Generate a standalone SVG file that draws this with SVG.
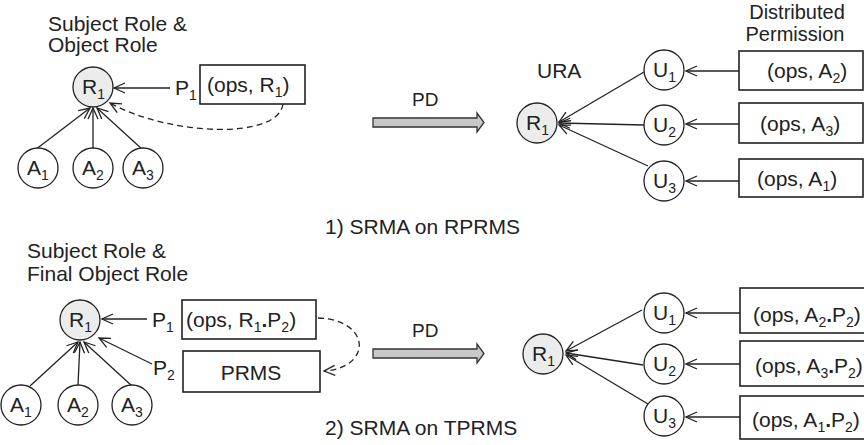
<svg xmlns="http://www.w3.org/2000/svg" width="864" height="445" viewBox="0 0 864 445">
  <style>
    text { font-family: "Liberation Sans", Arial, sans-serif; font-size: 21px; fill: #222; }
    .sub { font-size: 14px; }
    .mid { text-anchor: middle; }
    .pd { font-size: 19px; }
    .hdr { font-size: 20px; }
    .node { fill: #fff; stroke: #222; stroke-width: 1.3; }
    .role { fill: #ececec; stroke: #222; stroke-width: 1.3; }
    .box { fill: #fff; stroke: #222; stroke-width: 1.6; }
    .edge { fill: none; stroke: #222; stroke-width: 1.3; marker-end: url(#open); }
    .dash { fill: none; stroke: #222; stroke-width: 1.3; stroke-dasharray: 6 4; marker-end: url(#open); }
    .flow { fill: #c8c8c8; stroke: #333; stroke-width: 1.3; }
  </style>
  <defs>
    <marker id="open" viewBox="-13 -7 15 14" refX="0" refY="0" markerWidth="15" markerHeight="14" orient="auto" markerUnits="userSpaceOnUse">
      <path d="M-11,-5 L0,0 L-11,5" fill="none" stroke="#222" stroke-width="1.3"/>
    </marker>
  </defs>
  <rect width="864" height="445" fill="#fff"/>

  <!-- ===== 1) SRMA on RPRMS ===== -->
  <text x="48" y="31">Subject Role &amp;</text>
  <text x="48" y="52">Object Role</text>

  <g id="connectors-1">
    <path class="edge" d="M35,150 L90,108"/>
    <path class="edge" d="M93,148 L93,108"/>
    <path class="edge" d="M143,150 L97,108"/>
    <path class="edge" d="M170,88 L114,88"/>
    <path class="dash" d="M283,104 C278,140 170,136 110,103"/>
    <path class="edge" d="M644,72 L559,122"/>
    <path class="edge" d="M644,125 L559,123"/>
    <path class="edge" d="M648,166 L559,125"/>
    <path class="edge" d="M739,71 L686,71"/>
    <path class="edge" d="M739,124 L686,124"/>
    <path class="edge" d="M739,181 L686,181"/>
  </g>

  <g id="r1-a">
    <circle class="role" cx="93" cy="87" r="20"/>
    <text x="82" y="94">R<tspan class="sub" dy="5">1</tspan></text>
  </g>
  <g id="a1-a">
    <circle class="node" cx="38" cy="168" r="20"/>
    <text x="27" y="175">A<tspan class="sub" dy="5">1</tspan></text>
  </g>
  <g id="a2-a">
    <circle class="node" cx="93" cy="168" r="20"/>
    <text x="82" y="175">A<tspan class="sub" dy="5">2</tspan></text>
  </g>
  <g id="a3-a">
    <circle class="node" cx="143" cy="168" r="20"/>
    <text x="132" y="175">A<tspan class="sub" dy="5">3</tspan></text>
  </g>
  <g id="p1-a">
    <text x="175" y="95">P<tspan class="sub" dy="5">1</tspan></text>
  </g>
  <g id="perm-a">
    <rect class="box" x="200" y="65" width="105" height="39"/>
    <text x="207" y="92">(ops, R<tspan class="sub" dy="5">1</tspan><tspan dy="-5">)</tspan></text>
  </g>

  <g id="pd-a">
    <text class="pd" x="412" y="106">PD</text>
    <path class="flow" d="M373,118 L477,118 L477,113 L484,122.5 L477,132 L477,127 L373,127 Z"/>
  </g>

  <text x="537" y="78">URA</text>
  <text class="mid hdr" x="797" y="18.5">Distributed</text>
  <text class="mid hdr" x="795" y="41">Permission</text>

  <g id="r1-b">
    <circle class="role" cx="537" cy="123" r="20"/>
    <text x="526" y="130">R<tspan class="sub" dy="5">1</tspan></text>
  </g>
  <g id="u1-b">
    <circle class="node" cx="664" cy="70" r="20"/>
    <text x="653" y="77">U<tspan class="sub" dy="5">1</tspan></text>
  </g>
  <g id="u2-b">
    <circle class="node" cx="664" cy="125" r="20"/>
    <text x="653" y="132">U<tspan class="sub" dy="5">2</tspan></text>
  </g>
  <g id="u3-b">
    <circle class="node" cx="664" cy="181" r="20"/>
    <text x="653" y="188">U<tspan class="sub" dy="5">3</tspan></text>
  </g>
  <g id="dp1-b">
    <rect class="box" x="739" y="51" width="124" height="39"/>
    <text x="767" y="78">(ops, A<tspan class="sub" dy="5">2</tspan><tspan dy="-5">)</tspan></text>
  </g>
  <g id="dp2-b">
    <rect class="box" x="739" y="103" width="124" height="40"/>
    <text x="760" y="131">(ops, A<tspan class="sub" dy="5">3</tspan><tspan dy="-5">)</tspan></text>
  </g>
  <g id="dp3-b">
    <rect class="box" x="739" y="159" width="124" height="38"/>
    <text x="757" y="186">(ops, A<tspan class="sub" dy="5">1</tspan><tspan dy="-5">)</tspan></text>
  </g>

  <text x="325" y="234">1) SRMA on RPRMS</text>

  <!-- ===== 2) SRMA on TPRMS ===== -->
  <text x="27" y="258">Subject Role &amp;</text>
  <text x="27" y="281">Final Object Role</text>

  <g id="connectors-2">
    <path class="edge" d="M30,386 L78,342"/>
    <path class="edge" d="M78,385 L80,342"/>
    <path class="edge" d="M132,386 L84,342"/>
    <path class="edge" d="M147,319 L102,319"/>
    <path class="edge" d="M152,364 L99,338"/>
    <path class="dash" d="M318,318 C372,320 372,368 324,371"/>
    <path class="edge" d="M642,310 L566,351"/>
    <path class="edge" d="M643,365 L566,353"/>
    <path class="edge" d="M648,404 L566,355"/>
    <path class="edge" d="M740,313 L686,313"/>
    <path class="edge" d="M740,364 L686,364"/>
    <path class="edge" d="M740,417 L686,417"/>
  </g>

  <g id="r1-c">
    <circle class="role" cx="80" cy="320" r="20"/>
    <text x="69" y="327">R<tspan class="sub" dy="5">1</tspan></text>
  </g>
  <g id="a1-c">
    <circle class="node" cx="21" cy="405" r="20"/>
    <text x="10" y="412">A<tspan class="sub" dy="5">1</tspan></text>
  </g>
  <g id="a2-c">
    <circle class="node" cx="78" cy="405" r="20"/>
    <text x="67" y="412">A<tspan class="sub" dy="5">2</tspan></text>
  </g>
  <g id="a3-c">
    <circle class="node" cx="132" cy="405" r="20"/>
    <text x="121" y="412">A<tspan class="sub" dy="5">3</tspan></text>
  </g>
  <g id="p1-c">
    <text x="152" y="327">P<tspan class="sub" dy="5">1</tspan></text>
  </g>
  <g id="p2-c">
    <text x="153" y="375">P<tspan class="sub" dy="5">2</tspan></text>
  </g>
  <g id="perm-c">
    <rect class="box" x="182" y="300" width="134" height="39"/>
    <text x="186" y="327">(ops, R<tspan class="sub" dy="5">1</tspan><tspan dy="-5" font-weight="bold">.</tspan>P<tspan class="sub" dy="5">2</tspan><tspan dy="-5">)</tspan></text>
  </g>
  <g id="prms-c">
    <rect class="box" x="183" y="351" width="137" height="41"/>
    <text class="mid" x="251" y="380">PRMS</text>
  </g>

  <g id="pd-c">
    <text class="pd" x="412" y="337">PD</text>
    <path class="flow" d="M373,349 L477,349 L477,344 L484,353.5 L477,363 L477,358 L373,358 Z"/>
  </g>

  <g id="r1-d">
    <circle class="role" cx="543" cy="354" r="20"/>
    <text x="532" y="361">R<tspan class="sub" dy="5">1</tspan></text>
  </g>
  <g id="u1-d">
    <circle class="node" cx="664" cy="313" r="20"/>
    <text x="653" y="320">U<tspan class="sub" dy="5">1</tspan></text>
  </g>
  <g id="u2-d">
    <circle class="node" cx="664" cy="364" r="20"/>
    <text x="653" y="371">U<tspan class="sub" dy="5">2</tspan></text>
  </g>
  <g id="u3-d">
    <circle class="node" cx="664" cy="416" r="20"/>
    <text x="653" y="423">U<tspan class="sub" dy="5">3</tspan></text>
  </g>
  <g id="dp1-d">
    <rect class="box" x="740" y="288" width="126" height="45"/>
    <text x="753" y="322">(ops, A<tspan class="sub" dy="5">2</tspan><tspan dy="-5" font-weight="bold">.</tspan>P<tspan class="sub" dy="5">2</tspan><tspan dy="-5">)</tspan></text>
  </g>
  <g id="dp2-d">
    <rect class="box" x="740" y="341" width="126" height="45"/>
    <text x="755" y="373">(ops, A<tspan class="sub" dy="5">3</tspan><tspan dy="-5" font-weight="bold">.</tspan>P<tspan class="sub" dy="5">2</tspan><tspan dy="-5">)</tspan></text>
  </g>
  <g id="dp3-d">
    <rect class="box" x="740" y="396" width="126" height="43"/>
    <text x="752" y="427">(ops, A<tspan class="sub" dy="5">1</tspan><tspan dy="-5" font-weight="bold">.</tspan>P<tspan class="sub" dy="5">2</tspan><tspan dy="-5">)</tspan></text>
  </g>

  <text x="325" y="435">2) SRMA on TPRMS</text>
</svg>
